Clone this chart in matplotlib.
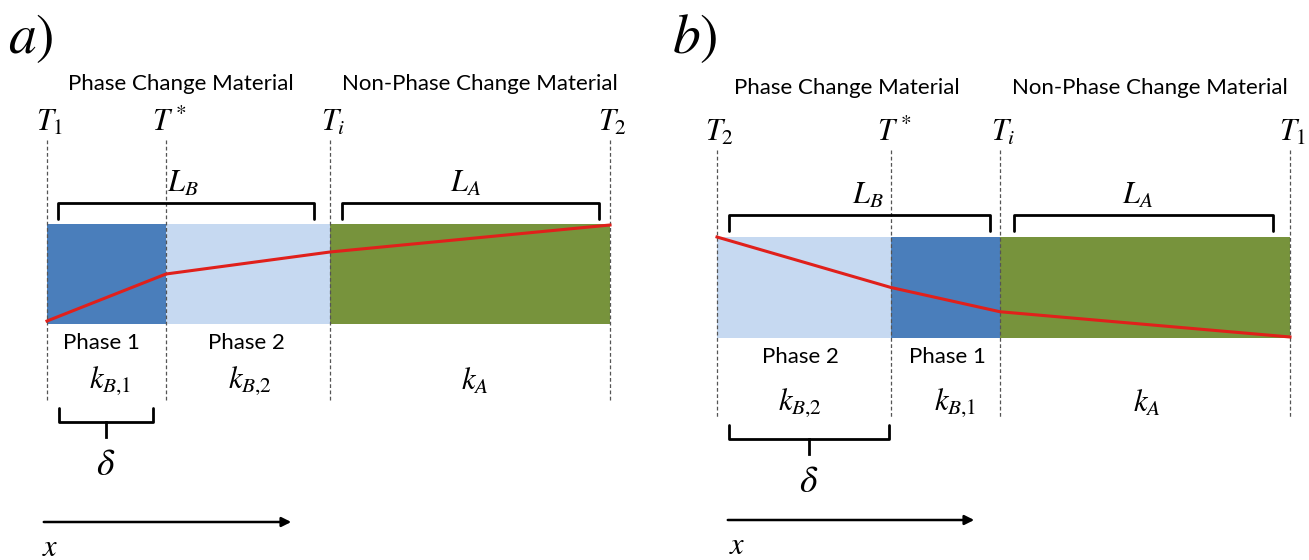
import matplotlib.pyplot as plt
import numpy as np

plt.rcParams["mathtext.fontset"] = "stix"

# layer data for each panel: boundaries (px), layer colours, temperature profile
# (temperature given as fraction of bar height, 0 = bottom, 1 = top)
a_edges = [47, 166, 330, 610]
a_colors = ["#4a7ebb", "#c6d9f1", "#77933c"]
a_temps = [0.03, 0.50, 0.72, 0.99]
a_tlabels = [r"$T_1$", r"$T^*$", r"$T_i$", r"$T_2$"]
a_phases = ["Phase 1", "Phase 2", ""]
a_k = [r"$k_{B{,}1}$", r"$k_{B{,}2}$", r"$k_A$"]

b_edges = [717, 891, 1000, 1290]
b_colors = ["#c6d9f1", "#4a7ebb", "#77933c"]
b_temps = [1.0, 0.50, 0.26, 0.01]
b_tlabels = [r"$T_2$", r"$T^*$", r"$T_i$", r"$T_1$"]
b_phases = ["Phase 2", "Phase 1", ""]
b_k = [r"$k_{B{,}2}$", r"$k_{B{,}1}$", r"$k_A$"]

RED = "#e0201b"
TXT = "Lato"
FS_TXT = 16
FS_MATH = 22

fig = plt.figure(figsize=(13.09, 5.6), dpi=100)
ax = fig.add_axes([0, 0, 1, 1])
ax.set_xlim(0, 1309)
ax.set_ylim(560, 0)
ax.axis("off")


def bracket(x0, x1, y, h, down=False):
    sgn = -1 if down else 1
    ax.plot([x0, x0, x1, x1], [y + sgn * h, y, y, y + sgn * h], color="black",
            lw=2, solid_joinstyle="round", solid_capstyle="round")


def panel(edges, colors, temps, tlabels, phases, ks, letter, lx, top, bot,
          dash_top, dash_bot, tl_y, head_x, head_y, lb_x, la_x, lbl_y, br_y,
          ph_x, ph_y, k_x, k_y, b_br, a_br, d_br, d_y, arr, arr_y, xl):
    # layers
    for i, c in enumerate(colors):
        ax.fill_between([edges[i], edges[i + 1]], top, bot, color=c, lw=0, zorder=1)
    # dashed boundaries
    for e in edges:
        ax.plot([e, e], [dash_top, dash_bot], color="#555555", lw=0.9,
                ls=(0, (3, 2)), zorder=2)
    # temperature profile
    ty = [bot - t * (bot - top) for t in temps]
    ax.plot(edges, ty, color=RED, lw=2.2, zorder=3)
    # labels
    ax.text(lx, 38, letter, fontsize=40, va="center", ha="left")
    for e, t in zip(edges, tlabels):
        ax.text(e + 3, tl_y, t, fontsize=FS_MATH, ha="center", va="center")
    ax.text(head_x[0], head_y, "Phase Change Material",
            family=TXT, fontsize=FS_TXT, ha="center", va="center")
    ax.text(head_x[1], head_y, "Non-Phase Change Material",
            family=TXT, fontsize=FS_TXT, ha="center", va="center")
    bracket(b_br[0], b_br[1], br_y, 16)
    bracket(a_br[0], a_br[1], br_y, 16)
    ax.text(lb_x, lbl_y, r"$L_B$", fontsize=FS_MATH, ha="center", va="center")
    ax.text(la_x, lbl_y, r"$L_A$", fontsize=FS_MATH, ha="center", va="center")
    for i in range(3):
        if phases[i]:
            ax.text(ph_x[i], ph_y, phases[i], family=TXT, fontsize=FS_TXT,
                    ha="center", va="center")
        ax.text(k_x[i], k_y, ks[i], fontsize=FS_MATH, ha="center", va="center")
    # delta brace
    bracket(d_br[0], d_br[1], d_y, 14, down=True)
    mid = (d_br[0] + d_br[1]) / 2
    ax.plot([mid, mid], [d_y, d_y + 15], color="black", lw=2)
    ax.text(mid, d_y + 43, r"$\delta$", fontsize=27, ha="center", va="center")
    # x arrow
    ax.annotate("", xy=(arr[1], arr_y), xytext=(arr[0], arr_y),
                arrowprops=dict(arrowstyle="-|>", color="black", lw=1.8,
                                mutation_scale=14))
    ax.text(xl, arr_y + 26, r"$x$", fontsize=FS_MATH, ha="center", va="center")


panel(a_edges, a_colors, a_temps, a_tlabels, a_phases, a_k, r"$a)$", 8,
      top=224, bot=324, dash_top=140, dash_bot=402, tl_y=122,
      head_x=(181, 480), head_y=84, lb_x=183, la_x=466, lbl_y=183, br_y=203,
      ph_x=(101, 246), ph_y=343, k_x=(110, 250, 475), k_y=381,
      b_br=(58, 314), a_br=(342, 599), d_br=(59, 153), d_y=422,
      arr=(41, 294), arr_y=522, xl=50)

panel(b_edges, b_colors, b_temps, b_tlabels, b_phases, b_k, r"$b)$", 672,
      top=237, bot=338, dash_top=150, dash_bot=417, tl_y=132,
      head_x=(847, 1150), head_y=88, lb_x=868, la_x=1138, lbl_y=195, br_y=215,
      ph_x=(800, 947), ph_y=357, k_x=(800, 955, 1147), k_y=403,
      b_br=(729, 990), a_br=(1014, 1273), d_br=(729, 889), d_y=439,
      arr=(725, 977), arr_y=520, xl=737)

fig.savefig("out.png", dpi=100)
